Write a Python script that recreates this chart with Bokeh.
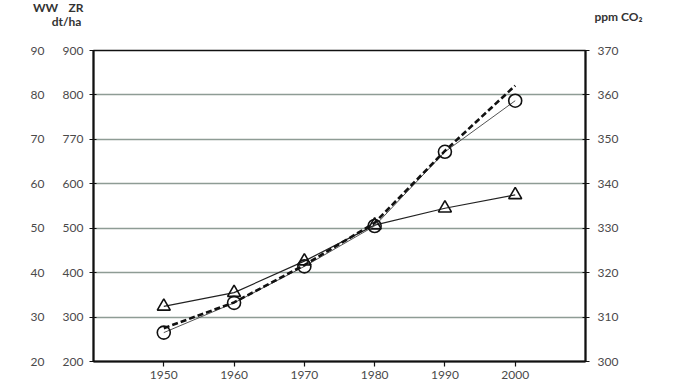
from bokeh.plotting import figure
from bokeh.models import Range1d, LinearAxis, FixedTicker
from bokeh.layouts import column
from bokeh.core.properties import value
from bokeh.embed import file_html
from bokeh.resources import INLINE

# ---- data ----
years = [1950, 1960, 1970, 1980, 1990, 2000]
ww_yield = [32.4, 35.5, 42.6, 50.7, 54.5, 57.5]      # WW dt/ha (left outer axis 20-90), triangles
zr_yield = [265, 332, 414, 505, 672, 787]            # ZR dt/ha (left inner axis 200-900), circles
co2_ppm = [307.5, 313.3, 321.7, 331.2, 347.4, 362.1] # ppm CO2 (right axis 300-370), dashed

zr_ticks = [200, 300, 400, 500, 600, 700, 800, 900]
zr_tick_labels = ["200", "300", "400", "500", "600", "770", "800", "900"]
ww_ticks = [20, 30, 40, 50, 60, 70, 80, 90]
co2_ticks = [300, 310, 320, 330, 340, 350, 360, 370]
x_ticks = [1950, 1960, 1970, 1980, 1990, 2000]

header_texts = ["WW", "ZR", "dt/ha", "ppm CO\u2082"]

FONT = "Lato"
TXT = "#4a4a4a"
HEAD_H = 42

# ---- header strip (unit labels above the axes) ----
head = figure(width=678, height=HEAD_H, output_backend="svg", toolbar_location=None,
              x_range=Range1d(0, 678), y_range=Range1d(HEAD_H, 0),
              x_axis_type=None, y_axis_type=None, min_border=0)
head.frame_align = False
head.outline_line_color = None
head.grid.grid_line_color = None
head.background_fill_color = "white"
head.border_fill_color = "white"
head.text(x=[45, 75.5, 66, 618], y=[7, 7, 21, 16], text=header_texts,
          text_align="center", text_baseline="middle",
          text_font=value(FONT), text_font_size="12px", text_font_style="bold",
          text_color="#333333")

# ---- main chart ----
p = figure(width=678, height=381 - HEAD_H, output_backend="svg", toolbar_location=None,
           x_range=Range1d(1940, 2010), y_range=Range1d(200, 900),
           min_border_left=93, min_border_right=93, min_border_top=50 - HEAD_H,
           min_border_bottom=20)
p.frame_align = False
p.extra_y_ranges = {"ww": Range1d(20, 90), "co2": Range1d(300, 370)}
p.background_fill_color = "white"
p.border_fill_color = "white"
p.outline_line_color = "#111111"
p.outline_line_width = 1.6

p.xgrid.grid_line_color = None
p.ygrid.grid_line_color = "#8e9c95"
p.ygrid.grid_line_width = 1.4
p.ygrid.ticker = FixedTicker(ticks=zr_ticks)

def style_axis(ax, standoff, tin, tout):
    ax.axis_line_color = "#111111"
    ax.axis_line_width = 2
    ax.major_tick_line_color = "#111111"
    ax.major_tick_line_width = 1.2
    ax.major_tick_in = tin
    ax.major_tick_out = tout
    ax.minor_tick_line_color = None
    ax.major_label_text_font = FONT
    ax.major_label_text_font_size = "12px"
    ax.major_label_text_color = TXT
    ax.major_label_standoff = standoff

ya = p.yaxis[0]
ya.ticker = FixedTicker(ticks=zr_ticks)
ya.major_label_overrides = {t: l for t, l in zip(zr_ticks, zr_tick_labels)}
style_axis(ya, 6, 3, 4)

ww_axis = LinearAxis(y_range_name="ww", ticker=FixedTicker(ticks=ww_ticks))
style_axis(ww_axis, 15, 0, 0)
ww_axis.axis_line_color = None
ww_axis.major_tick_line_color = None
p.add_layout(ww_axis, "left")

co2_axis = LinearAxis(y_range_name="co2", ticker=FixedTicker(ticks=co2_ticks))
style_axis(co2_axis, 8, 3, 4)
p.add_layout(co2_axis, "right")

xa = p.xaxis[0]
xa.ticker = FixedTicker(ticks=x_ticks)
style_axis(xa, 4, 0, 5)

p.line(years, ww_yield, y_range_name="ww", line_color="#222222", line_width=1.2)
p.scatter(years, ww_yield, y_range_name="ww", marker="triangle", size=13,
          line_color="#111111", line_width=1.6, fill_alpha=0)

p.line(years, zr_yield, line_color="#555555", line_width=1.0)
p.scatter(years, zr_yield, marker="circle", size=13,
          line_color="#111111", line_width=1.6, fill_alpha=0)

p.line(years, co2_ppm, y_range_name="co2", line_color="#111111", line_width=2.6,
       line_dash="6 3")

layout = column(head, p, spacing=0)
open("out.html", "w").write(file_html(layout, INLINE))
